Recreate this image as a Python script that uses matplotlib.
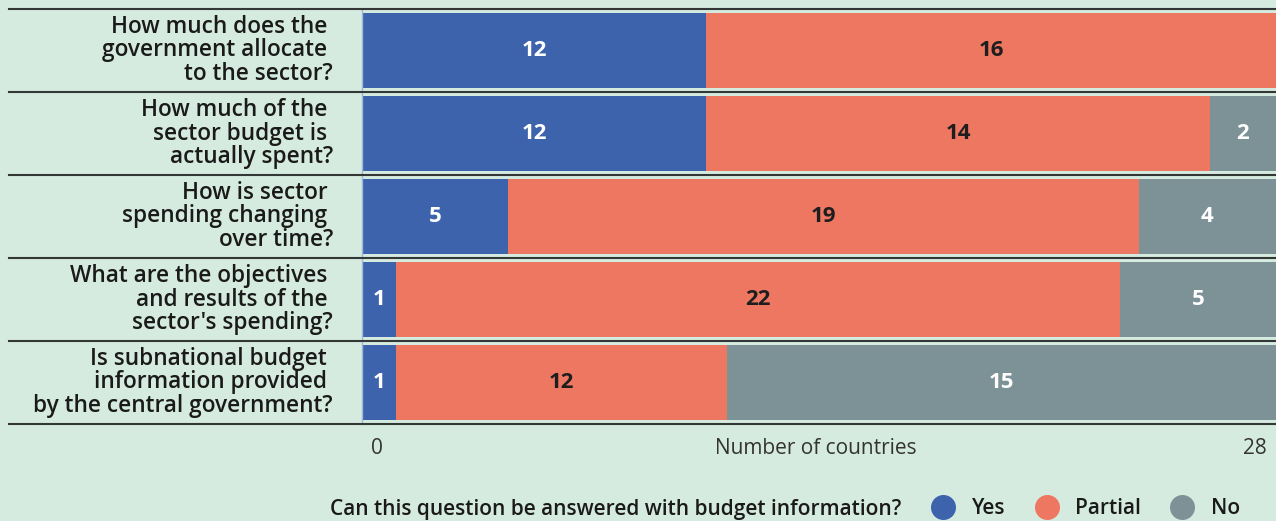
import matplotlib
matplotlib.use("Agg")
import matplotlib.pyplot as plt
import matplotlib.transforms as mtransforms
from matplotlib.lines import Line2D

# ---- data ----
questions = [
    "How much does the \ngovernment allocate \nto the sector?",
    "How much of the \nsector budget is \nactually spent?",
    "How is sector \nspending changing \nover time?",
    "What are the objectives \nand results of the \nsector's spending?",
    "Is subnational budget \ninformation provided \nby the central government?",
]
series_names = ["Yes", "Partial", "No"]
# counts shown as labels
yes_counts = [12, 12, 5, 1, 1]
partial_counts = [16, 14, 19, 22, 12]
no_counts = [0, 2, 4, 5, 15]
# drawn segment lengths as they appear in the picture (axis 0..28)
yes_len = [10.54, 10.54, 4.47, 1.04, 1.04]
partial_len = [17.46, 15.44, 19.33, 22.18, 10.14]
no_len = [0.00, 2.02, 4.20, 4.78, 16.82]
x_min, x_max = 0, 28
x_tick_labels = ["0", "28"]
x_title = "Number of countries"
legend_title = "Can this question be answered with budget information?"

colors = ["#3e63ad", "#ee7762", "#7c9297"]
label_colors = ["white", "#1e1e1e", "white"]
bg = "#d6ebdf"
FONT = "Open Sans"

W, H = 1276, 521
fig = plt.figure(figsize=(W / 100, H / 100), dpi=100, facecolor=bg)
ax = fig.add_axes([362 / W, 1 - 424 / H, 914 / W, 415 / H])
ax.set_facecolor(bg)

n = len(questions)
ys = list(range(n))
lens = [yes_len, partial_len, no_len]
counts = [yes_counts, partial_counts, no_counts]
left = [0.0] * n
for s in range(3):
    ax.barh(ys, lens[s], left=left, height=0.9, color=colors[s], edgecolor="none", zorder=2)
    for i in range(n):
        if counts[s][i] > 0:
            ax.text(left[i] + lens[s][i] / 2, ys[i], str(counts[s][i]),
                    ha="center", va="center", color=label_colors[s],
                    fontsize=16, fontweight="bold", family=FONT, zorder=3)
    left = [left[i] + lens[s][i] for i in range(n)]

ax.set_xlim(x_min, x_max)
ax.set_ylim(n - 0.5, -0.5)
ax.set_xticks([])
ax.set_yticks([])
for sp in ["top", "right", "bottom"]:
    ax.spines[sp].set_visible(False)
ax.spines["left"].set_color("#9fb7d6")
ax.spines["left"].set_linewidth(1)

# row separators extending into the label area
trans = mtransforms.blended_transform_factory(fig.transFigure, ax.transData)
for b in range(n + 1):
    yb = b - 0.5
    ax.add_line(Line2D([9 / W, 1], [yb, yb], transform=trans, color="#333836",
                       lw=1.5, clip_on=False, zorder=4))

# question labels
for i, q in enumerate(questions):
    fig.text(333 / W, ys[i], q, transform=trans,
             ha="right", va="center", fontsize=16.3, fontweight="semibold",
             family=FONT, color="#1a1a1a", linespacing=0.98)

# axis tick labels & title
tick_y = 1 - 449 / H
fig.text(377 / W, tick_y, x_tick_labels[0], ha="center", va="center",
         fontsize=15, family=FONT, color="#333333")
fig.text(1267 / W, tick_y, x_tick_labels[1], ha="right", va="center",
         fontsize=15, family=FONT, color="#333333")
fig.text(816 / W, tick_y, x_title, ha="center", va="center",
         fontsize=15, family=FONT, color="#333333")

# legend
leg_y = 1 - 509 / H
fig.text(330 / W, leg_y, legend_title, ha="left", va="center",
         fontsize=15, fontweight="semibold", family=FONT, color="#1a1a1a")
handles = [Line2D([], [], marker="o", linestyle="none", markersize=18,
                  markerfacecolor=c, markeredgecolor="none") for c in colors]
leg = fig.legend(handles, series_names, ncol=3, loc="center left",
                 bbox_to_anchor=(933 / W, leg_y), frameon=False,
                 borderaxespad=0, borderpad=0,
                 handletextpad=0.85, columnspacing=1.5, handlelength=1.0,
                 prop={"family": FONT, "weight": "semibold", "size": 15})
for t in leg.get_texts():
    t.set_color("#1a1a1a")

fig.savefig("out.png", dpi=100, facecolor=bg)
